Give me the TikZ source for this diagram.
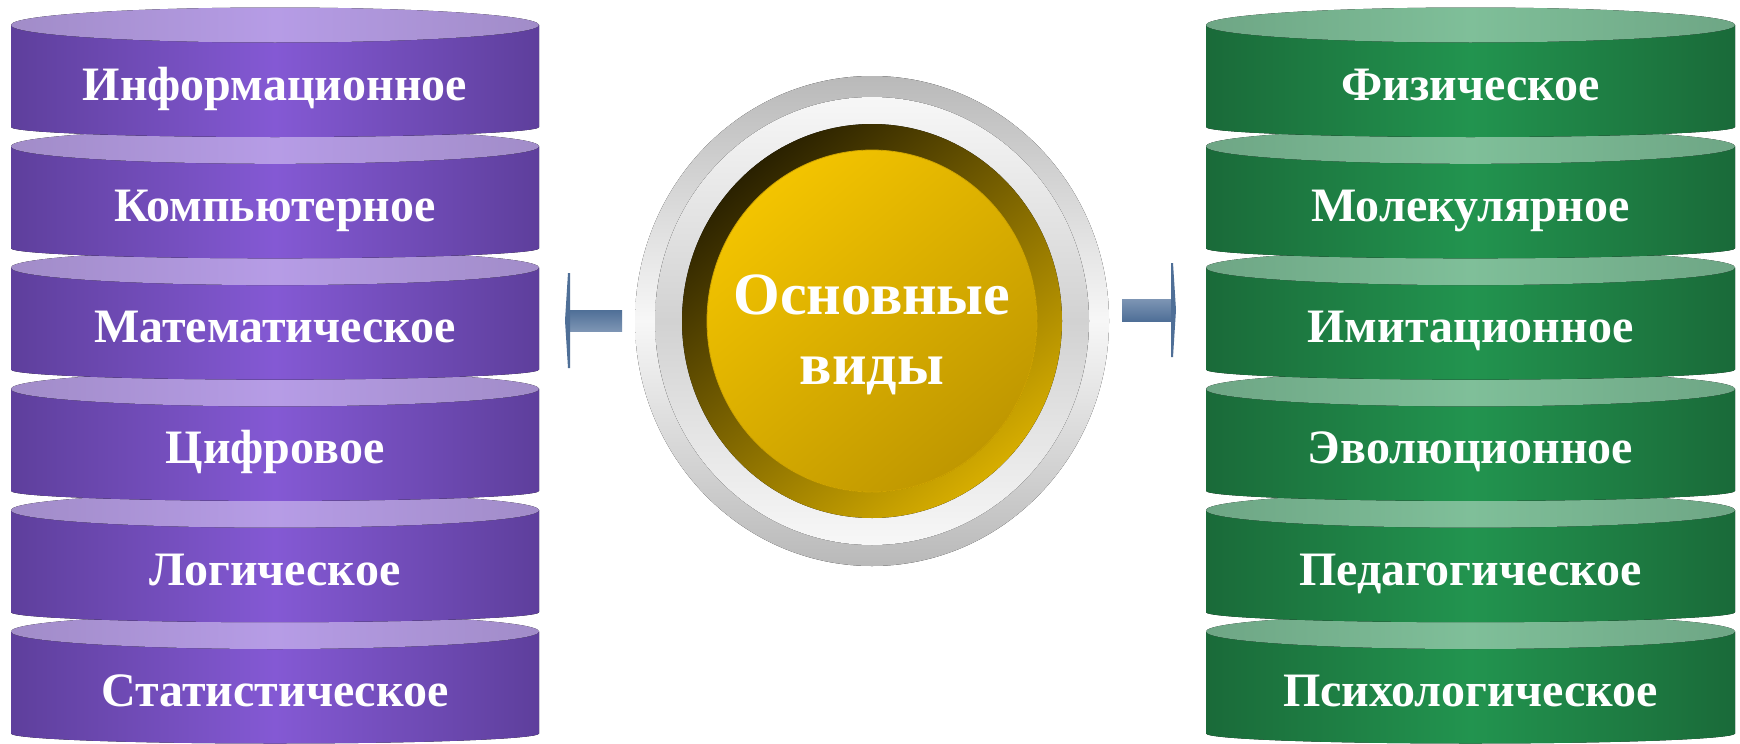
\documentclass[tikz,border=0pt]{standalone}
\usepackage{fontspec}
\setmainfont{Liberation Serif}
\definecolor{pedge}{HTML}{5E3F9C}
\definecolor{pmid}{HTML}{8459D4}
\definecolor{ptedge}{HTML}{A18CC8}
\definecolor{ptmid}{HTML}{B69CE6}
\definecolor{gedge}{HTML}{1A6A39}
\definecolor{gmid}{HTML}{22944F}
\definecolor{gtedge}{HTML}{6EA685}
\definecolor{gtmid}{HTML}{7FBF99}
\definecolor{ringgray}{HTML}{B9B9B9}
\definecolor{ringwhite}{HTML}{F7F7F7}
\definecolor{ringmid}{HTML}{D2D2D2}
\definecolor{darkgold}{HTML}{2A2100}
\definecolor{brightgold}{HTML}{D6AD00}
\definecolor{ytop}{HTML}{F3C400}
\definecolor{ybot}{HTML}{BF9700}
\definecolor{arrdark}{HTML}{4F6F97}
\definecolor{arrlight}{HTML}{7D95B4}
\tikzset{
  pbody/.style={left color=pedge, right color=pedge, middle color=pmid},
  ptop/.style={left color=ptedge, right color=ptedge, middle color=ptmid},
  gbody/.style={left color=gedge, right color=gedge, middle color=gmid},
  gtop/.style={left color=gtedge, right color=gtedge, middle color=gtmid},
  lbl/.style={text=white, font=\fontsize{48}{56}\selectfont\bfseries, inner sep=0pt, anchor=base},
  corelbl/.style={text=white, font=\fontsize{60}{70}\selectfont\bfseries, inner sep=0pt, align=center},
  arrhead/.style={fill=arrdark},
}
\begin{document}
\begin{tikzpicture}[x=1pt,y=1pt]
\clip (0,0) rectangle (1740,-744);
\fill[white] (0,0) rectangle (1740,-744);
% left cylinders (drawn bottom first so upper ones overlap)
\foreach \t/\i in {Статистическое/5,Логическое/4,Цифровое/3,Математическое/2,Компьютерное/1,Информационное/0}{
  \pgfmathsetmacro\yc{-25-121.3*\i}
  \fill[pbody] (11,\yc) -- (11,\yc-102) arc[start angle=180,end angle=360,x radius=264,y radius=10] -- (539,\yc) -- cycle;
  \fill[ptop] (275,\yc) ellipse[x radius=264,y radius=17.5];
  \node[lbl] (L\i) at (275,\yc-75) {\t};
}
% right cylinders
\foreach \t/\i in {Психологическое/5,Педагогическое/4,Эволюционное/3,Имитационное/2,Молекулярное/1,Физическое/0}{
  \pgfmathsetmacro\yc{-25-121.3*\i}
  \fill[gbody] (1206,\yc) -- (1206,\yc-102) arc[start angle=180,end angle=360,x radius=264.5,y radius=10] -- (1735,\yc) -- cycle;
  \fill[gtop] (1470.5,\yc) ellipse[x radius=264.5,y radius=17.5];
  \node[lbl] (R\i) at (1470.5,\yc-75) {\t};
}
% centre emblem
\coordinate (cc) at (872,-321);
\fill[top color=ringgray, bottom color=ringgray, middle color=ringwhite] (cc) ellipse[x radius=237,y radius=245];
\fill[top color=ringwhite, bottom color=ringwhite, middle color=ringmid] (cc) ellipse[x radius=217,y radius=224];
\fill[top color=darkgold, bottom color=brightgold, shading angle=40] (cc) ellipse[x radius=190,y radius=197];
\fill[top color=ytop, bottom color=ybot, shading angle=40] (cc) ellipse[x radius=165,y radius=171];
\draw[line width=0.8pt, color=ybot!70!ytop] (cc) ellipse[x radius=165,y radius=171];
\node[corelbl] (core) at (872,-335) {Основные\\виды};
% left arrow
\coordinate (la1) at (569,-310);
\coordinate (la2) at (622,-331);
\fill[top color=arrdark, bottom color=arrlight] (la1) rectangle (la2);
\fill[arrhead] (565,-320.5) -- (568,-273) -- (570,-273) -- (570,-368) -- (568,-368) -- cycle;
% right arrow
\coordinate (ra1) at (1122,-299);
\coordinate (ra2) at (1172,-321);
\fill[top color=arrlight, bottom color=arrdark] (ra1) rectangle (ra2);
\fill[arrhead] (1176,-310) -- (1173,-263) -- (1171,-263) -- (1171,-357) -- (1173,-357) -- cycle;
\end{tikzpicture}
\end{document}
